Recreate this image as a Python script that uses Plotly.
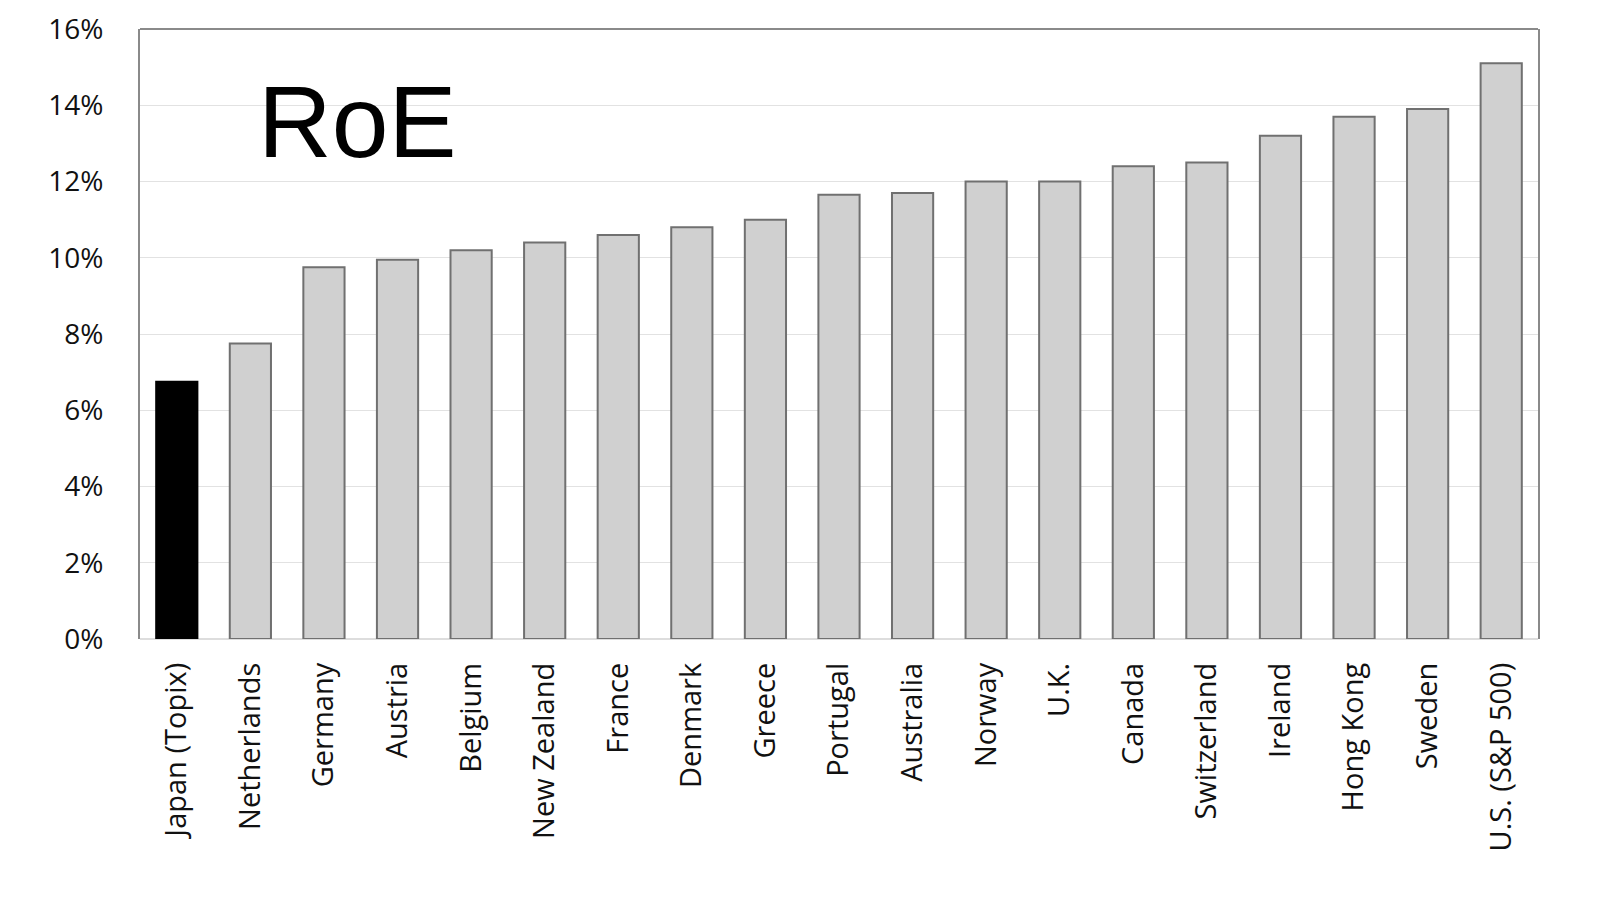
import plotly.graph_objects as go

# RoE by market (percent)
countries = ["Japan (Topix)", "Netherlands", "Germany", "Austria", "Belgium",
             "New Zealand", "France", "Denmark", "Greece", "Portugal",
             "Australia", "Norway", "U.K.", "Canada", "Switzerland",
             "Ireland", "Hong Kong", "Sweden", "U.S. (S&P 500)"]
roe = [6.75, 7.75, 9.75, 9.95, 10.2,
       10.4, 10.6, 10.8, 11.0, 11.65,
       11.7, 12.0, 12.0, 12.4, 12.5,
       13.2, 13.7, 13.9, 15.1]
y_ticks = [0, 2, 4, 6, 8, 10, 12, 14, 16]
y_tick_labels = [f"{v}%" for v in y_ticks]

# Japan highlighted in black, the rest light gray
bar_colors = ["black" if c.startswith("Japan") else "#d0d0d0" for c in countries]
line_colors = ["black" if c.startswith("Japan") else "#707070" for c in countries]

fig = go.Figure()

fig.add_trace(go.Bar(
    x=countries,
    y=roe,
    marker=dict(color=bar_colors, line=dict(color=line_colors, width=2)),
    width=0.56,
    showlegend=False
))

fig.update_layout(
    width=1602,
    height=910,
    plot_bgcolor="white",
    paper_bgcolor="white",
    margin=dict(l=132, r=72, t=21, b=279),
    font=dict(family="Open Sans", color="#111111"),
    xaxis=dict(
        tickangle=-90,
        tickfont=dict(size=29, color="#111111"),
        showline=False,
        showgrid=False,
        automargin=False,
        ticklabelstandoff=17
    ),
    yaxis=dict(
        range=[0, 16],
        tickvals=y_ticks,
        ticktext=y_tick_labels,
        tickfont=dict(size=28, color="#111111"),
        ticklabeloverflow="allow",
        showgrid=True,
        gridcolor="#e2e2e2",
        gridwidth=1,
        zeroline=True,
        zerolinecolor="#dddddd",
        zerolinewidth=2,
        showline=True,
        mirror=True,
        linecolor="#8a8a8a",
        linewidth=2,
        automargin=False,
        ticklabelstandoff=29
    ),
    annotations=[dict(
        text="RoE",
        xref="paper", yref="paper",
        x=0.083, y=0.848,
        xanchor="left", yanchor="middle",
        showarrow=False,
        font=dict(family="Liberation Sans", size=102, color="black")
    )],
    shapes=[dict(
        type="line", xref="paper", yref="paper",
        x0=0, x1=1, y0=1, y1=1,
        line=dict(color="#8a8a8a", width=2)
    )]
)

fig.write_html("out.html")
